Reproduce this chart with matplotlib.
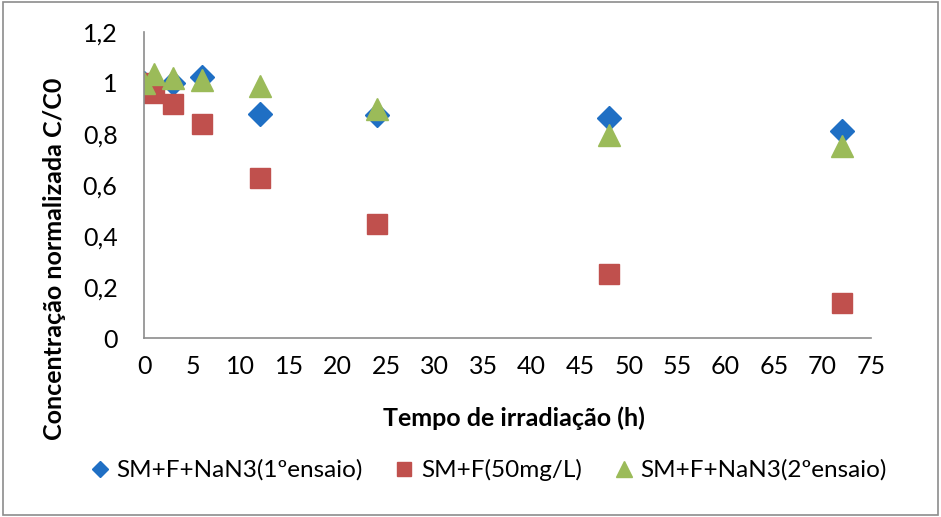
import matplotlib.pyplot as plt
from matplotlib.patches import Rectangle
from matplotlib.ticker import FuncFormatter

plt.rcParams['font.family'] = ['Lato', 'DejaVu Sans']

# dados
t_ensaio1 = [0, 3, 6, 12, 24, 48, 72]
c_ensaio1 = [1.0, 1.0, 1.024, 0.878, 0.875, 0.863, 0.81]

t_50 = [0, 1, 3, 6, 12, 24, 48, 72]
c_50 = [1.0, 0.96, 0.918, 0.84, 0.627, 0.447, 0.25, 0.137]

t_ensaio2 = [0, 1, 3, 6, 12, 24, 48, 72]
c_ensaio2 = [1.0, 1.035, 1.018, 1.012, 0.99, 0.9, 0.796, 0.753]

W, H = 941, 517
fig = plt.figure(figsize=(W / 100, H / 100), dpi=100)
ax = fig.add_axes([144 / W, 1 - 338 / H, (871 - 144) / W, (338 - 32) / H])

ax.plot(t_ensaio1, c_ensaio1, 'D', color='#1F6FC4', ms=12, label='SM+F+NaN3(1ºensaio)')
ax.plot(t_50, c_50, 's', color='#C0504D', ms=14, label='SM+F(50mg/L)')
ax.plot(t_ensaio2, c_ensaio2, '^', color='#9BBB59', ms=16, label='SM+F+NaN3(2ºensaio)')

ax.set_xlim(0, 75)
ax.set_ylim(0, 1.2)
ax.set_xticks(range(0, 76, 5))
ax.set_yticks([0, 0.2, 0.4, 0.6, 0.8, 1.0, 1.2])
ax.yaxis.set_major_formatter(FuncFormatter(lambda v, p: ('%g' % round(v, 1)).replace('.', ',')))
ax.tick_params(labelsize=18, length=0)
ax.tick_params(axis='y', pad=19)
ax.tick_params(axis='x', pad=12)

for s in ['top', 'right']:
    ax.spines[s].set_visible(False)
for s in ['left', 'bottom']:
    ax.spines[s].set_color('#8C8C8C')
    ax.spines[s].set_linewidth(1.2)

# títulos dos eixos
fig.text(514 / W, 1 - 418 / H, 'Tempo de irradiação (h)', fontsize=18, fontweight='bold',
         ha='center', va='center')
fig.text(55 / W, 1 - 259 / H, 'Concentração normalizada C/C0', fontsize=18, fontweight='bold',
         ha='center', va='center', rotation=90)

ax.legend(loc='center', bbox_to_anchor=(486 / W, 1 - 470 / H), bbox_transform=fig.transFigure,
          ncol=3, frameon=False, fontsize=17.5, handletextpad=0.1, columnspacing=1.1,
          markerscale=0.7, handlelength=1.2)

fig.patches.append(Rectangle((0.003, 0.003), 0.994, 0.994, transform=fig.transFigure,
                             fill=False, edgecolor='#8C8C8C', linewidth=1.2))

fig.savefig('out.png', dpi=100)
